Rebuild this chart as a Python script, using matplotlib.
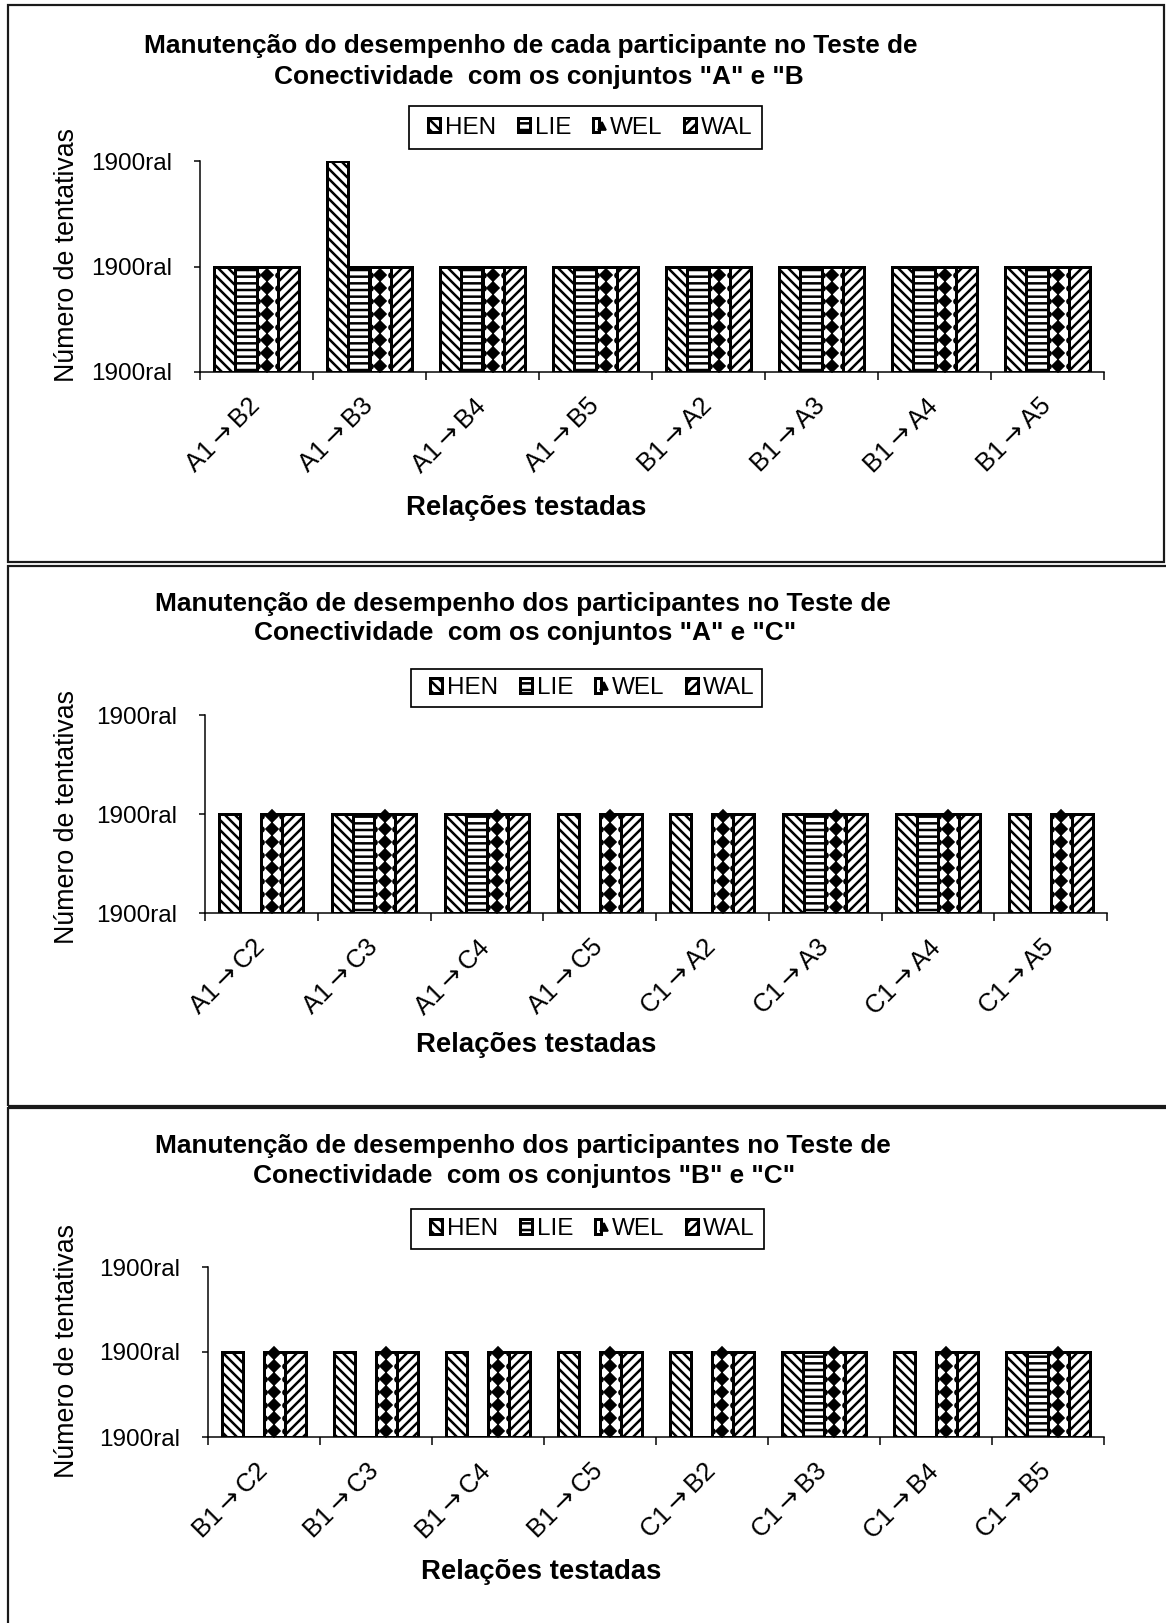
import numpy as np
import matplotlib.pyplot as plt
from matplotlib.patches import Rectangle
from matplotlib.lines import Line2D
from matplotlib.legend_handler import HandlerTuple

# Data ---------------------------------------------------------------------------------------
participants = ['HEN', 'LIE', 'WEL', 'WAL']
yticks = [0, 1, 2]
ytick_labels = ['1900ral', '1900ral', '1900ral']

rel_ab = ['A1→B2', 'A1→B3', 'A1→B4', 'A1→B5', 'B1→A2', 'B1→A3', 'B1→A4', 'B1→A5']
hen_ab = [1, 2, 1, 1, 1, 1, 1, 1]
lie_ab = [1, 1, 1, 1, 1, 1, 1, 1]
wel_ab = [1, 1, 1, 1, 1, 1, 1, 1]
wal_ab = [1, 1, 1, 1, 1, 1, 1, 1]

rel_ac = ['A1→C2', 'A1→C3', 'A1→C4', 'A1→C5', 'C1→A2', 'C1→A3', 'C1→A4', 'C1→A5']
hen_ac = [1, 1, 1, 1, 1, 1, 1, 1]
lie_ac = [0, 1, 1, 0, 0, 1, 1, 0]
wel_ac = [1, 1, 1, 1, 1, 1, 1, 1]
wal_ac = [1, 1, 1, 1, 1, 1, 1, 1]

rel_bc = ['B1→C2', 'B1→C3', 'B1→C4', 'B1→C5', 'C1→B2', 'C1→B3', 'C1→B4', 'C1→B5']
hen_bc = [1, 1, 1, 1, 1, 1, 1, 1]
lie_bc = [0, 0, 0, 0, 0, 1, 0, 1]
wel_bc = [1, 1, 1, 1, 1, 1, 1, 1]
wal_bc = [1, 1, 1, 1, 1, 1, 1, 1]

titles = [
    ('Manutenção do desempenho de cada participante no Teste de',
     'Conectividade  com os conjuntos "A" e "B'),
    ('Manutenção de desempenho dos participantes no Teste de',
     'Conectividade  com os conjuntos "A" e "C"'),
    ('Manutenção de desempenho dos participantes no Teste de',
     'Conectividade  com os conjuntos "B" e "C"'),
]

# Aesthetics ---------------------------------------------------------------------------------
W, H, DPI = 1166, 1623, 120


def pt(px):  # pixels -> points
    return px * 72 / DPI


plt.rcParams['font.family'] = ['Liberation Sans', 'DejaVu Sans']
plt.rcParams['font.size'] = pt(24.2)
plt.rcParams['mathtext.fontset'] = 'dejavusans'
plt.rcParams['hatch.linewidth'] = pt(2.5)

hatches = ['\\\\\\\\', '---', '', '////']
width = 0.186

# panel layout in pixels
panels = [
    dict(ax=(200, 1104, 161, 372), t1=(531, 46), t2=(539, 77), leg=(409, 762, 106, 149),
         xl=(526, 508), yl=(67, 255), border=(8, 1164, 5, 562)),
    dict(ax=(205, 1107, 715, 913), t1=(523, 604), t2=(525, 633), leg=(411, 762, 669, 707),
         xl=(536, 1045), yl=(67, 817), border=(8, 1172, 566, 1106)),
    dict(ax=(208, 1104, 1267, 1437), t1=(523, 1146), t2=(524, 1176), leg=(411, 764, 1209, 1249),
         xl=(541, 1572), yl=(67, 1351), border=(8, 1172, 1108, 1640)),
]
datasets = [
    (rel_ab, [hen_ab, lie_ab, wel_ab, wal_ab]),
    (rel_ac, [hen_ac, lie_ac, wel_ac, wal_ac]),
    (rel_bc, [hen_bc, lie_bc, wel_bc, wal_bc]),
]


def fx(px):
    return px / W


def fy(py):
    return 1 - py / H


fig = plt.figure(figsize=(W / DPI, H / DPI), dpi=DPI)

for p, (cats, series), (t1, t2) in zip(panels, datasets, titles):
    l, r, t, b = p['ax']
    ax = fig.add_axes([fx(l), fy(b), (r - l) / W, (b - t) / H])
    x = np.arange(len(cats))
    offsets = (np.arange(4) - 1.5) * width
    containers = []
    for k, (name, vals) in enumerate(zip(participants, series)):
        bars = ax.bar(x + offsets[k], vals, width, color='white', edgecolor='black',
                      linewidth=pt(3), hatch=hatches[k], label=name, zorder=2)
        containers.append(bars)

    # WEL pattern: thin centre line with a column of diamonds
    step = 13 / ((b - t) / 2)
    for bar in containers[2]:
        h = bar.get_height()
        if h <= 0:
            continue
        xc = bar.get_x() + bar.get_width() / 2
        ax.vlines(xc, 0, h, color='black', lw=pt(1.5), zorder=3)
        ys = np.arange(step / 2, h, step)
        ax.plot(np.full(len(ys), xc), ys, 'D', ms=pt(8), color='black', zorder=3)
        for xe in (bar.get_x(), bar.get_x() + bar.get_width()):
            d, = ax.plot(np.full(len(ys), xe), ys, 'o', ms=pt(5), color='black', zorder=3)
            d.set_clip_path(bar)

    ax.set_xlim(-0.5, len(cats) - 0.5)
    ax.set_ylim(0, 2)
    ax.set_yticks(yticks)
    ax.set_yticklabels(ytick_labels)
    ax.set_xticks(x)
    ax.set_xticklabels([c.replace('→', r'$\rightarrow$') for c in cats], rotation=45,
                       ha='right', va='center', rotation_mode='anchor', fontsize=pt(25.5))
    ax.set_xticks(np.arange(len(cats) + 1) - 0.5, minor=True)
    ax.tick_params(axis='x', which='major', length=0, pad=pt(30))
    ax.tick_params(axis='x', which='minor', length=pt(7.5), width=pt(1.5), direction='out')
    ax.tick_params(axis='y', length=pt(6), width=pt(1.5), pad=pt(21.5))
    for s in ['top', 'right']:
        ax.spines[s].set_visible(False)
    for s in ['left', 'bottom']:
        ax.spines[s].set_linewidth(pt(1.5))

    # texts
    fig.text(fx(p['t1'][0]), fy(p['t1'][1]), t1, ha='center', va='center', fontweight='bold',
             fontsize=pt(26.3))
    fig.text(fx(p['t2'][0]), fy(p['t2'][1]), t2, ha='center', va='center', fontweight='bold',
             fontsize=pt(26.3))
    fig.text(fx(p['xl'][0]), fy(p['xl'][1]), 'Relações testadas', ha='center', va='center',
             fontweight='bold', fontsize=pt(27.5))
    fig.text(fx(p['yl'][0]), fy(p['yl'][1]), 'Número de tentativas', ha='center', va='center',
             rotation=90, fontsize=pt(26.7))

    # legend
    wel_handle = (containers[2][0], Line2D([], [], marker='^', ls='', ms=pt(8), color='black'))
    handles = [containers[0][0], containers[1][0], wel_handle, containers[3][0]]
    ll, lr, lt, lb = p['leg']
    ax.legend(handles, participants, loc='center left', ncol=4, frameon=False,
              bbox_to_anchor=(fx(ll + 19), fy((lt + lb) / 2)), bbox_transform=fig.transFigure,
              borderpad=0, borderaxespad=0, handlelength=0.5, handleheight=0.55,
              handletextpad=0.2, columnspacing=0.9,
              handler_map={tuple: HandlerTuple(ndivide=None, pad=0)})
    fig.add_artist(Rectangle((fx(ll), fy(lb)), (lr - ll) / W, (lb - lt) / H,
                             transform=fig.transFigure, fill=False, ec='black', lw=pt(1.7)))

    # chart border
    bl, br, bt, bb = p['border']
    fig.add_artist(Rectangle((fx(bl), fy(bb)), (br - bl) / W, (bb - bt) / H,
                             transform=fig.transFigure, fill=False, ec='#1a1a1a', lw=pt(2.2)))

fig.savefig('out.png', dpi=DPI, facecolor='white')
